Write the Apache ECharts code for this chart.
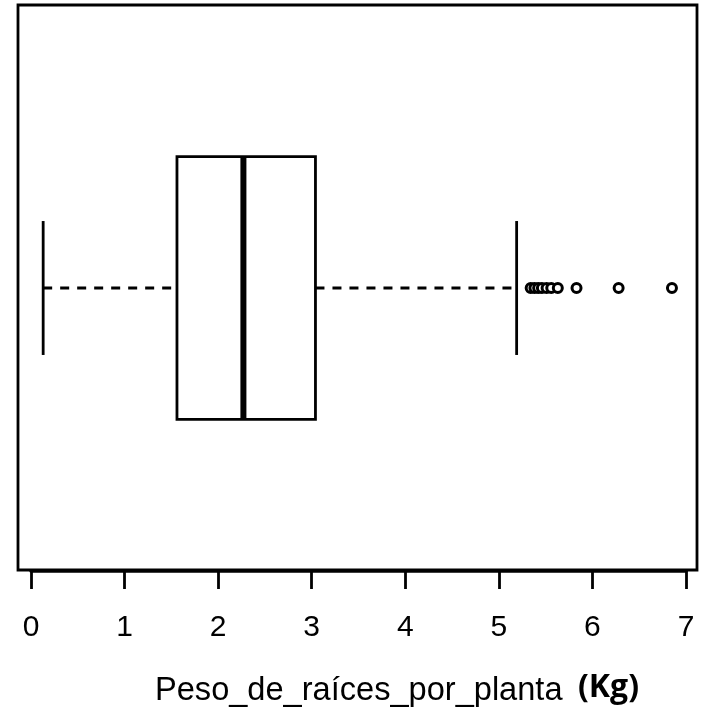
<!DOCTYPE html>
<html>
<head>
<meta charset="utf-8">
<script src="https://cdn.jsdelivr.net/npm/echarts@6/dist/echarts.min.js"></script>
<style>
  html, body { margin: 0; padding: 0; background: #fff; }
  #chart { width: 703px; height: 720px; }
</style>
</head>
<body>
<div id="chart"></div>
<script>
// Five-number summary of root weight per plant (kg)
const groupNames = ['Peso_de_raíces_por_planta'];
const whiskerLow = [0.13];
const quartile1 = [1.56];
const medians = [2.27];
const quartile3 = [3.04];
const whiskerHigh = [5.19];
// Points beyond the upper whisker
const outlierValues = [5.34, 5.38, 5.42, 5.46, 5.51, 5.56, 5.63, 5.83, 6.28, 6.85];
const tickValues = [0, 1, 2, 3, 4, 5, 6, 7];

const boxData = groupNames.map((n, i) => [i, whiskerLow[i], quartile1[i], medians[i], quartile3[i], whiskerHigh[i]]);
const outlierData = outlierValues.map(v => [v, 0]);

const chart = echarts.init(document.getElementById('chart'), null, { renderer: 'canvas' });

function renderBox(params, api) {
  const cat = api.value(0);
  const pLo = api.coord([api.value(1), cat]);
  const pQ1 = api.coord([api.value(2), cat]);
  const pMed = api.coord([api.value(3), cat]);
  const pQ3 = api.coord([api.value(4), cat]);
  const pHi = api.coord([api.value(5), cat]);
  const band = api.size([0, 1])[1];
  const half = band * 0.232;
  const capHalf = half * 0.51;
  const y = pMed[1];
  const line = { stroke: '#000', lineWidth: 2.8 };
  const dashed = { stroke: '#000', lineWidth: 3, lineDash: [9, 8] };
  return {
    type: 'group',
    children: [
      { type: 'line', shape: { x1: pLo[0], y1: y, x2: pQ1[0], y2: y }, style: dashed },
      { type: 'line', shape: { x1: pQ3[0], y1: y, x2: pHi[0], y2: y }, style: dashed },
      { type: 'line', shape: { x1: pLo[0], y1: y - capHalf, x2: pLo[0], y2: y + capHalf }, style: line },
      { type: 'line', shape: { x1: pHi[0], y1: y - capHalf, x2: pHi[0], y2: y + capHalf }, style: line },
      { type: 'rect', shape: { x: pQ1[0], y: y - half, width: pQ3[0] - pQ1[0], height: half * 2 },
        style: { fill: '#fff', stroke: '#000', lineWidth: 2.8 } },
      { type: 'line', shape: { x1: pMed[0], y1: y - half, x2: pMed[0], y2: y + half },
        style: { stroke: '#000', lineWidth: 6 } }
    ]
  };
}

const option = {
  backgroundColor: '#fff',
  animation: false,
  grid: { left: 31, right: 17, top: 5, bottom: 149, containLabel: false },
  xAxis: {
    type: 'value',
    min: 0,
    max: 7,
    interval: 1,
    splitLine: { show: false },
    axisLine: { show: true, onZero: false, lineStyle: { color: '#000', width: 3.5 } },
    axisTick: { show: true, length: 18, lineStyle: { color: '#000', width: 2.8 } },
    axisLabel: {
      show: true, margin: 42, color: '#000',
      fontFamily: 'Liberation Sans', fontSize: 30,
      customValues: tickValues
    }
  },
  yAxis: {
    type: 'category',
    data: groupNames,
    show: false
  },
  graphic: [
    {
      type: 'rect', silent: true, z: 0,
      shape: { x: 18, y: 5, width: 679, height: 565 },
      style: { fill: 'none', stroke: '#000', lineWidth: 2.8 }
    },
    {
      type: 'text', left: 155, top: 675, z: 10,
      style: {
        text: 'Peso_de_raíces_por_planta',
        fill: '#000', font: '32.6px "Liberation Sans"'
      }
    },
    {
      type: 'text', left: 578, top: 672, z: 10,
      style: {
        text: '(Kg)',
        fill: '#000', font: 'bold 32px "Open Sans"'
      }
    }
  ],
  series: [
    {
      type: 'custom',
      renderItem: renderBox,
      data: boxData,
      encode: { x: [1, 2, 3, 4, 5], y: 0 },
      z: 5
    },
    {
      type: 'scatter',
      data: outlierData,
      symbol: 'circle',
      symbolSize: 9,
      itemStyle: { color: '#fff', borderColor: '#000', borderWidth: 3, opacity: 1 },
      z: 6
    }
  ]
};

chart.setOption(option);
</script>
</body>
</html>
